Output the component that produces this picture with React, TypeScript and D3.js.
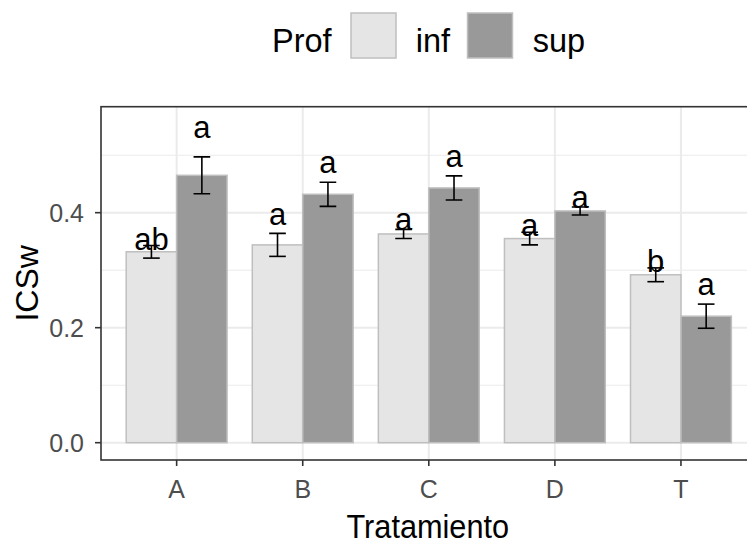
import React from "react";
import * as d3 from "d3";

const categories = ["A", "B", "C", "D", "T"];
const infMean = [0.332, 0.344, 0.363, 0.355, 0.292];
const infSe = [0.011, 0.02, 0.008, 0.011, 0.012];
const supMean = [0.465, 0.432, 0.443, 0.403, 0.22];
const supSe = [0.032, 0.021, 0.021, 0.007, 0.021];
const infLetters = ["ab", "a", "a", "a", "b"];
const supLetters = ["a", "a", "a", "a", "a"];
const infLabelY = [0.335, 0.378, 0.37, 0.3595, 0.2974];
const supLabelY = [0.529, 0.4685, 0.48, 0.4077, 0.2569];
const yTicks = [0, 0.2, 0.4];
const yMinor = [0.1, 0.3, 0.5];
const groups = ["inf", "sup"];

const W = 747;
const H = 548;
const FONT = "'Liberation Sans', Arial, Helvetica, sans-serif";

export default function App() {
  const pl = 101, pr = 756.6, pt = 106.7, pb = 460;
  const x = d3.scaleLinear().domain([0.4, categories.length + 0.6]).range([pl, pr]);
  const y = d3.scaleLinear().domain([-0.0301, 0.5843]).range([pb, pt]);
  const fills = d3.scaleOrdinal<string, string>().domain(groups).range(["#e5e5e5", "#999999"]);
  const bw = 0.4;
  const capHalf = 0.066;

  const series = [
    { key: "inf", mean: infMean, se: infSe, letters: infLetters, ly: infLabelY, off: -bw },
    { key: "sup", mean: supMean, se: supSe, letters: supLetters, ly: supLabelY, off: 0 },
  ];

  return (
    <svg width={W} height={H} style={{ position: "absolute", left: 0, top: 0, background: "#fff" }} fontFamily={FONT}>
      <rect x={0} y={0} width={W} height={H} fill="#fff" />
      <defs>
        <clipPath id="panel">
          <rect x={pl} y={pt} width={pr - pl} height={pb - pt} />
        </clipPath>
      </defs>
      <g clipPath="url(#panel)">
        {yMinor.map((v) => (
          <line key={"mn" + v} x1={pl} x2={pr} y1={y(v)} y2={y(v)} stroke="#ebebeb" strokeWidth={1.1} />
        ))}
        {yTicks.map((v) => (
          <line key={"mj" + v} x1={pl} x2={pr} y1={y(v)} y2={y(v)} stroke="#ebebeb" strokeWidth={2} />
        ))}
        {categories.map((c, i) => (
          <line key={"vx" + c} x1={x(i + 1)} x2={x(i + 1)} y1={pt} y2={pb} stroke="#ebebeb" strokeWidth={2} />
        ))}
        {series.map((s) =>
          categories.map((c, i) => (
            <rect
              key={s.key + c}
              x={x(i + 1 + s.off)}
              y={y(s.mean[i])}
              width={x(i + 1 + s.off + bw) - x(i + 1 + s.off)}
              height={y(0) - y(s.mean[i])}
              fill={fills(s.key)}
              stroke="#bfbfbf"
              strokeWidth={1.5}
            />
          ))
        )}
        {series.map((s) =>
          categories.map((c, i) => {
            const cx = x(i + 1 + s.off + bw / 2);
            const hw = x(1 + capHalf) - x(1);
            const y1 = y(s.mean[i] + s.se[i]);
            const y2 = y(s.mean[i] - s.se[i]);
            return (
              <g key={"e" + s.key + c} stroke="#000" strokeWidth={1.6}>
                <line x1={cx} x2={cx} y1={y1} y2={y2} />
                <line x1={cx - hw} x2={cx + hw} y1={y1} y2={y1} />
                <line x1={cx - hw} x2={cx + hw} y1={y2} y2={y2} />
              </g>
            );
          })
        )}
        {series.map((s) =>
          categories.map((c, i) => (
            <text
              key={"l" + s.key + c}
              x={x(i + 1 + s.off + bw / 2)}
              y={y(s.ly[i])}
              textAnchor="middle"
              fontSize={31}
              fill="#000"
            >
              {s.letters[i]}
            </text>
          ))
        )}
      </g>
      {/* panel border */}
      <rect x={pl} y={pt} width={pr - pl} height={pb - pt} fill="none" stroke="#333333" strokeWidth={1.6} />
      {/* y axis ticks and labels */}
      {yTicks.map((v) => (
        <g key={"yt" + v}>
          <line x1={pl - 6} x2={pl} y1={y(v)} y2={y(v)} stroke="#333333" strokeWidth={1.6} />
          <text x={pl - 17} y={y(v) + 9} textAnchor="end" fontSize={25} fill="#4d4d4d">
            {d3.format(".1f")(v)}
          </text>
        </g>
      ))}
      {categories.map((c, i) => (
        <g key={"xt" + c}>
          <line x1={x(i + 1)} x2={x(i + 1)} y1={pb} y2={pb + 6} stroke="#333333" strokeWidth={1.6} />
          <text x={x(i + 1)} y={498} textAnchor="middle" fontSize={25} fill="#4d4d4d">
            {c}
          </text>
        </g>
      ))}
      <text
        transform={`translate(${(pl + pr) / 2 - 1}, 538) scale(0.93, 1)`}
        textAnchor="middle"
        fontSize={33}
        fill="#000"
      >
        Tratamiento
      </text>
      <text
        transform={`translate(38, ${(pt + pb) / 2}) rotate(-90)`}
        textAnchor="middle"
        fontSize={32}
        fill="#000"
      >
        ICSw
      </text>
      {/* legend */}
      <text x={272} y={52} fontSize={32.5} fill="#000">
        Prof
      </text>
      {groups.map((g, i) => {
        const kx = [351, 467.5][i];
        const tx = [415.7, 532.7][i];
        return (
          <g key={"lg" + g}>
            <rect x={kx} y={13} width={45} height={45} fill={fills(g)} stroke="#bfbfbf" strokeWidth={1.5} />
            <text x={tx} y={52} fontSize={32.5} fill="#000">
              {g}
            </text>
          </g>
        );
      })}
    </svg>
  );
}
